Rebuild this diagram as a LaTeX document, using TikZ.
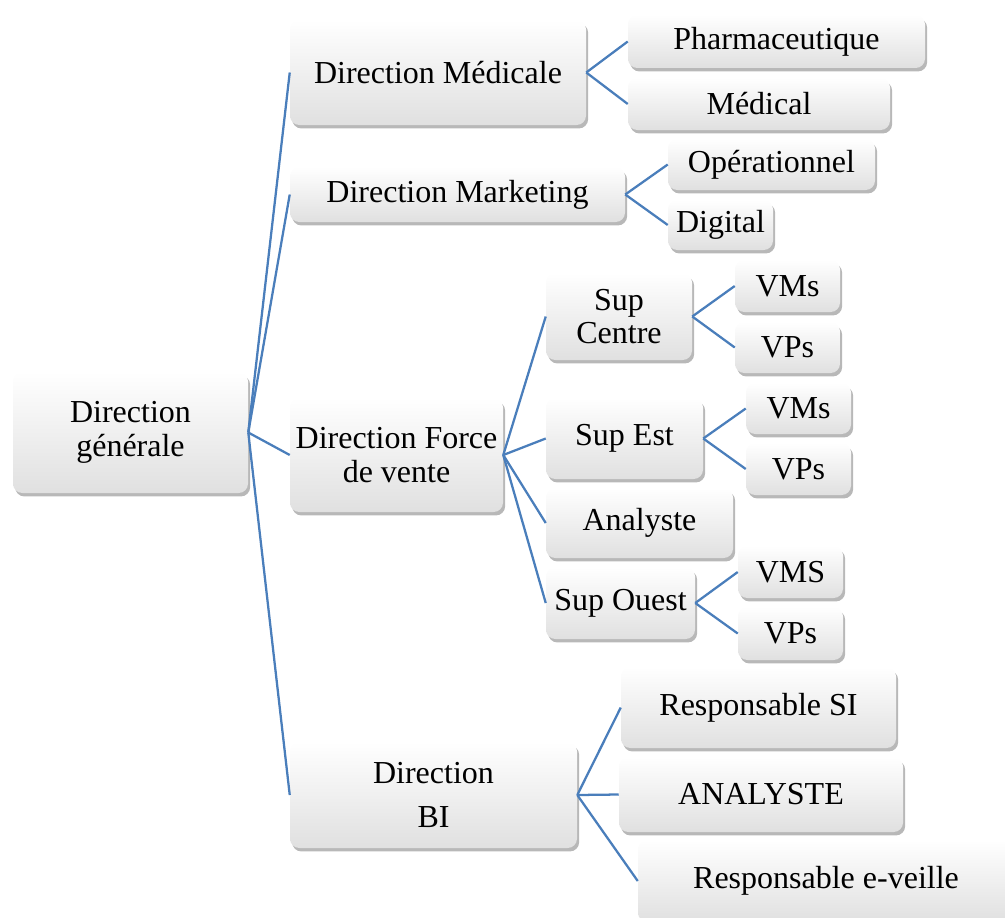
\documentclass[tikz,border=0pt]{standalone}
\usepackage{fontspec}
\setmainfont{Liberation Serif}
\usetikzlibrary{shadows}
\definecolor{conncol}{HTML}{4A7EBB}
\definecolor{boxbot}{HTML}{E0E0E0}
\tikzset{
  box/.style 2 args={rounded corners=7pt, inner sep=0pt, align=center,
    top color=white, bottom color=boxbot, shading angle=0,
    minimum width=#1*0.75pt, minimum height=#2*0.75pt,
    drop shadow={shadow xshift=1.6pt, shadow yshift=-2.6pt, fill=black, opacity=0.28},
    font=\fontsize{24}{25}\selectfont},
  conn/.style={draw=conncol, line width=1.7pt}
}
\begin{document}
\begin{tikzpicture}[x=0.75pt,y=-0.75pt]
\useasboundingbox (0,0) rectangle (1005,917);
% level 1
\node[box={235}{121}] (dg) at (130.5,432.5) {Direction\\générale};
% level 2
\node[box={296}{105}] (dm) at (438,72.5) {Direction Médicale};
\node[box={335}{55}] (dmk) at (457.5,194.5) {Direction Marketing};
\node[box={213}{114}] (dfv) at (396.5,455) {Direction Force\\de vente};
\node[box={287}{106}] (bi) at (433.5,795) {Direction\\[8pt]BI};
% Médicale children
\node[box={297}{53}] (ph) at (776.5,41.5) {Pharmaceutique};
\node[box={262}{52}] (me) at (759,104) {Médical};
% Marketing children
\node[box={207}{51}] (op) at (771.5,164.5) {Opérationnel};
\node[box={105}{50}] (di) at (720.5,225) {Digital};
% Force de vente children
\node[box={146}{87}] (sc) at (619,316.5) {Sup\\Centre};
\node[box={157}{81}] (se) at (624.5,438.5) {Sup Est};
\node[box={187}{70}] (an) at (639.5,523) {Analyste};
\node[box={149}{72}] (so) at (620.5,603) {Sup Ouest};
\node[box={105}{52}] (v1) at (787.5,286) {VMs};
\node[box={105}{51}] (p1) at (787.5,347.5) {VPs};
\node[box={105}{51}] (v2) at (798.5,408.5) {VMs};
\node[box={105}{52}] (p2) at (798.5,469) {VPs};
\node[box={105}{52}] (v3) at (790.5,572) {VMS};
\node[box={105}{53}] (p3) at (790.5,633.5) {VPs};
% BI children
\node[box={275}{81}] (rs) at (758.5,707.5) {Responsable SI};
\node[box={284}{75}] (an2) at (761,794.5) {ANALYSTE};
\node[box={376}{82}] (rv) at (826,881) {Responsable e-veille};
% connectors
\foreach \c in {dm,dmk,dfv,bi} \draw[conn] (dg.east) -- (\c.west);
\foreach \c in {ph,me} \draw[conn] (dm.east) -- (\c.west);
\foreach \c in {op,di} \draw[conn] (dmk.east) -- (\c.west);
\foreach \c in {sc,se,an,so} \draw[conn] (dfv.east) -- (\c.west);
\foreach \c in {v1,p1} \draw[conn] (sc.east) -- (\c.west);
\foreach \c in {v2,p2} \draw[conn] (se.east) -- (\c.west);
\foreach \c in {v3,p3} \draw[conn] (so.east) -- (\c.west);
\foreach \c in {rs,an2,rv} \draw[conn] (bi.east) -- (\c.west);
\end{tikzpicture}
\end{document}
